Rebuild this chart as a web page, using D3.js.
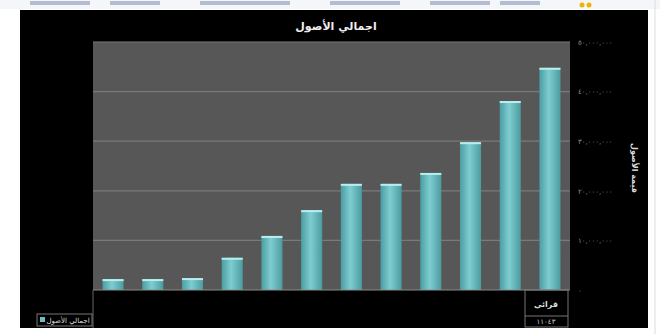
<!DOCTYPE html>
<html lang="ar">
  <head>
    <meta charset="utf-8">
    <title>اجمالي الأصول</title>
    <script src="https://d3js.org/d3.v7.min.js"></script>
    <style>
      body { margin: 0; background: #fff; }
      text { font-family: "DejaVu Sans", "Noto Sans", sans-serif; }
    </style>
  </head>
  <body>
    <script type="text/javascript">
      var w = 660;
      var h = 334;
      // chart data
      var years = ["2000", "2001", "2002", "2003", "2004", "2005", "2006", "2007", "2008", "2009", "2010", "2011"];
      var assets = [2.2, 2.2, 2.4, 6.5, 10.9, 16.1, 21.4, 21.4, 23.6, 29.8, 38.1, 44.8];   // millions
      var tickValues = [0, 10, 20, 30, 40, 50];
      var tickLabels = ["٠", "١٠,٠٠٠,٠٠٠", "٢٠,٠٠٠,٠٠٠", "٣٠,٠٠٠,٠٠٠", "٤٠,٠٠٠,٠٠٠", "٥٠,٠٠٠,٠٠٠"];
      var title = "اجمالي الأصول";
      var yTitle = "قيمة الأصول";

      var frame = {left: 20, top: 10, right: 648, bottom: 328};
      var plot = {left: 93, top: 42, right: 570, bottom: 290};

      var svg = d3.select("body").append("svg")
          .attr("width", w)
          .attr("height", h);

      // bits of the page toolbar above the chart
      svg.append("rect").attr("x", 0).attr("y", 0).attr("width", w).attr("height", 9).attr("fill", "#f4f6fa");
      [[30, 60], [110, 50], [200, 90], [330, 70], [430, 60], [500, 40]].forEach(function(s) {
        svg.append("rect").attr("x", s[0]).attr("y", 1).attr("width", s[1]).attr("height", 4)
          .attr("fill", "#3b4f86").attr("opacity", 0.35);
      });
      svg.append("circle").attr("cx", 582).attr("cy", 5).attr("r", 2.5).attr("fill", "#f0b400");
      svg.append("circle").attr("cx", 589).attr("cy", 5).attr("r", 2.5).attr("fill", "#f0b400");
      svg.append("line").attr("x1", 655).attr("x2", 655).attr("y1", 0).attr("y2", h).attr("stroke", "#ddd");

      svg.append("rect")
          .attr("x", frame.left).attr("y", frame.top)
          .attr("width", frame.right - frame.left).attr("height", frame.bottom - frame.top)
          .attr("fill", "#000");

      var xScale = d3.scaleBand()
          .domain(years)
          .range([plot.left, plot.right])
          .paddingInner(0.47)
          .paddingOuter(0.24);

      var yScale = d3.scaleLinear()
          .domain([0, 50])
          .range([plot.bottom, plot.top]);

      svg.append("rect")
          .attr("x", plot.left).attr("y", plot.top)
          .attr("width", plot.right - plot.left).attr("height", plot.bottom - plot.top)
          .attr("fill", "#575757");

      // gridlines
      svg.append("g").selectAll("line")
          .data(tickValues.slice(1))
          .enter().append("line")
          .attr("x1", plot.left).attr("x2", plot.right)
          .attr("y1", function(d) { return yScale(d); })
          .attr("y2", function(d) { return yScale(d); })
          .attr("stroke", "#7a7a7a").attr("stroke-width", 1.2);

      var defs = svg.append("defs");
      var grad = defs.append("linearGradient").attr("id", "barGrad").attr("x1", 0).attr("x2", 1).attr("y1", 0).attr("y2", 0);
      grad.append("stop").attr("offset", "0%").attr("stop-color", "#4a9ea3");
      grad.append("stop").attr("offset", "45%").attr("stop-color", "#7fcdd0");
      grad.append("stop").attr("offset", "100%").attr("stop-color", "#4b9ca1");

      svg.append("g").selectAll("rect")
          .data(assets)
          .enter().append("rect")
          .attr("x", function(d, i) { return xScale(years[i]); })
          .attr("y", function(d) { return yScale(d); })
          .attr("width", xScale.bandwidth())
          .attr("height", function(d) { return plot.bottom - yScale(d); })
          .attr("fill", "url(#barGrad)");

      // bar top highlight
      svg.append("g").selectAll("rect")
          .data(assets)
          .enter().append("rect")
          .attr("x", function(d, i) { return xScale(years[i]); })
          .attr("y", function(d) { return yScale(d); })
          .attr("width", xScale.bandwidth())
          .attr("height", 2)
          .attr("fill", "#b8eef0");

      // baseline
      svg.append("line")
          .attr("x1", plot.left).attr("x2", plot.right)
          .attr("y1", plot.bottom).attr("y2", plot.bottom)
          .attr("stroke", "#8a8a8a");

      // right axis
      var yAxis = d3.axisRight(yScale)
          .tickValues(tickValues)
          .tickSize(0)
          .tickPadding(8)
          .tickFormat(function(d, i) { return tickLabels[i]; });
      var ax = svg.append("g")
          .attr("transform", "translate(" + plot.right + ",0)")
          .call(yAxis);
      ax.select(".domain").remove();
      ax.selectAll("text").attr("fill", "#8f8f8f").attr("font-size", 7);

      svg.append("text")
          .attr("transform", "translate(632," + ((plot.top + plot.bottom) / 2 + 2) + ") rotate(90)")
          .attr("text-anchor", "middle")
          .attr("fill", "#ddd")
          .attr("font-size", 8)
          .attr("font-weight", "bold")
          .text(yTitle);

      svg.append("text")
          .attr("x", 336).attr("y", 30)
          .attr("text-anchor", "middle")
          .attr("fill", "#eee")
          .attr("font-size", 11)
          .attr("font-weight", "bold")
          .text(title);

      // data table area under the plot
      svg.append("line").attr("x1", plot.left).attr("x2", plot.left)
          .attr("y1", plot.bottom).attr("y2", frame.bottom).attr("stroke", "#666");
      svg.append("rect").attr("x", 525).attr("y", plot.bottom).attr("width", 43).attr("height", 37)
          .attr("fill", "none").attr("stroke", "#777");
      svg.append("line").attr("x1", 525).attr("x2", 568).attr("y1", 316).attr("y2", 316).attr("stroke", "#777");
      svg.append("text").attr("x", 546).attr("y", 307).attr("text-anchor", "middle")
          .attr("fill", "#ddd").attr("font-size", 8).attr("font-weight", "bold").text("قرائي");
      svg.append("text").attr("x", 546).attr("y", 324).attr("text-anchor", "middle")
          .attr("fill", "#ccc").attr("font-size", 7).text("١١٠٤٣");

      // legend
      svg.append("rect").attr("x", 37).attr("y", 314).attr("width", 55).attr("height", 12)
          .attr("fill", "none").attr("stroke", "#777");
      svg.append("rect").attr("x", 40).attr("y", 317).attr("width", 5).attr("height", 5).attr("fill", "#6cc0c4");
      svg.append("text").attr("x", 68).attr("y", 323).attr("text-anchor", "middle")
          .attr("fill", "#ddd").attr("font-size", 7).text(title);
    </script>
  </body>
</html>
